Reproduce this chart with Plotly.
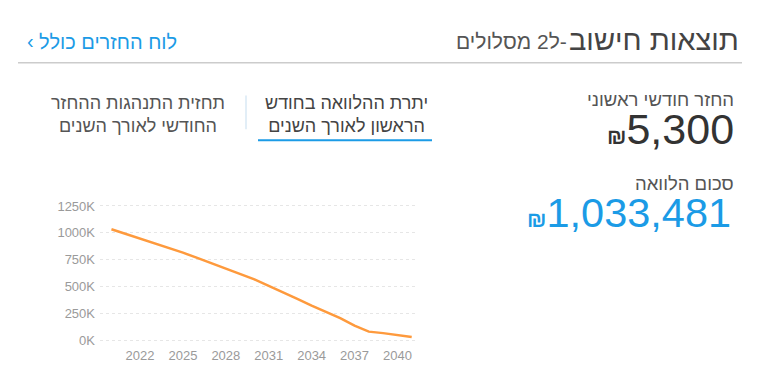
import plotly.graph_objects as go

# ---- data ----
years = [2020, 2021, 2022, 2023, 2024, 2025, 2026, 2027, 2028, 2029, 2030,
         2031, 2032, 2033, 2034, 2035, 2036, 2037, 2038, 2039, 2040, 2041]
balance = [1033481, 990000, 948000, 905000, 860000, 815000, 766000, 716000,
           668000, 620000, 566000, 505000, 448000, 385000, 322000, 260000,
           205000, 135000, 80000, 66000, 45000, 30000]
x_ticks = [2022, 2025, 2028, 2031, 2034, 2037, 2040]
y_ticks = [0, 250000, 500000, 750000, 1000000, 1250000]
y_tick_labels = ["0K", "250K", "500K", "750K", "1000K", "1250K"]

title_main = "תוצאות חישוב"
title_sub = "-ל2 מסלולים"
link_text = "לוח החזרים כולל"
tab1_text = "יתרת ההלוואה בחודש<br>הראשון לאורך השנים"
tab2_text = "תחזית התנהגות ההחזר<br>החודשי לאורך השנים"
label_payment = "החזר חודשי ראשוני"
value_payment = "5,300"
label_loan = "סכום הלוואה"
value_loan = "1,033,481"

OFF = 8  # default page body margin
W, H = 768 - OFF, 384 - OFF
FONT = "Arial, 'Liberation Sans', sans-serif"
BLUE = "#1b9be6"
RLE, PDF = "\u202B", "\u202C"


def px(x):
    return (x - OFF) / W


def py(y):
    return 1 - (y - OFF) / H


fig = go.Figure()
fig.add_trace(go.Scatter(
    x=years, y=balance, mode="lines",
    line=dict(color="#fe9a3d", width=2.5),
    hoverinfo="skip", showlegend=False,
))

fig.update_layout(
    width=W, height=H,
    margin=dict(l=0, r=0, t=0, b=0),
    paper_bgcolor="white", plot_bgcolor="white",
    font=dict(family=FONT),
    xaxis=dict(
        domain=[px(100), px(417)], range=[2019.2, 2041.37],
        tickvals=x_ticks, ticktext=[str(v) for v in x_ticks],
        showgrid=False, zeroline=False, showline=False,
        tickfont=dict(size=13, color="#9a9a9a"), ticks="",
    ),
    yaxis=dict(
        domain=[py(348), py(200)], range=[-55600, 1314800],
        tickvals=y_ticks, ticktext=y_tick_labels,
        showgrid=True, gridcolor="#e6e6e6", griddash="dot", gridwidth=1,
        zeroline=False, showline=False,
        tickfont=dict(size=13, color="#9a9a9a"), ticks="", ticklabelstandoff=4,
    ),
)

ann = []
# header
ann.append(dict(x=px(741), y=py(40), text=title_main, xanchor="right", yanchor="middle",
                font=dict(size=29, color="#444444")))
ann.append(dict(x=px(569), y=py(42), text=RLE + title_sub + PDF, xanchor="right", yanchor="middle",
                font=dict(size=21, color="#555555")))
ann.append(dict(x=px(37), y=py(42), text=link_text, xanchor="left", yanchor="middle",
                font=dict(size=20, color=BLUE)))
ann.append(dict(x=px(25), y=py(41), text="\u2039", xanchor="left", yanchor="middle",
                font=dict(size=20, color=BLUE)))
# tabs
ann.append(dict(x=px(346), y=py(115), text=tab1_text, xanchor="center", yanchor="middle",
                font=dict(size=18, color="#444444"), align="center"))
ann.append(dict(x=px(138), y=py(115), text=tab2_text, xanchor="center", yanchor="middle",
                font=dict(size=18, color="#555555"), align="center"))
# right panel
ann.append(dict(x=px(736), y=py(100), text=label_payment, xanchor="right", yanchor="middle",
                font=dict(size=18.5, color="#555555")))
ann.append(dict(x=px(736), y=py(130),
                text="<span style='font-size:22px'><b>₪</b></span>" + value_payment,
                xanchor="right", yanchor="middle", font=dict(size=43, color="#333333")))
ann.append(dict(x=px(736), y=py(184), text=label_loan, xanchor="right", yanchor="middle",
                font=dict(size=18.5, color="#555555")))
ann.append(dict(x=px(733), y=py(214),
                text="<span style='font-size:22px'><b>₪</b></span>" + value_loan,
                xanchor="right", yanchor="middle", font=dict(size=41.5, color=BLUE)))

for a in ann:
    a.update(xref="paper", yref="paper", showarrow=False)
fig.update_layout(annotations=ann)

shapes = [
    dict(type="line", x0=px(18), x1=px(742), y0=py(63), y1=py(63),
         line=dict(color="#cccccc", width=1.5)),
    dict(type="line", x0=px(246), x1=px(246), y0=py(96), y1=py(130),
         line=dict(color="#d8e8f4", width=1.5)),
    dict(type="line", x0=px(258), x1=px(432), y0=py(141), y1=py(141),
         line=dict(color=BLUE, width=2)),
]
for s in shapes:
    s.update(xref="paper", yref="paper")
fig.update_layout(shapes=shapes)

fig.write_html("out.html")
